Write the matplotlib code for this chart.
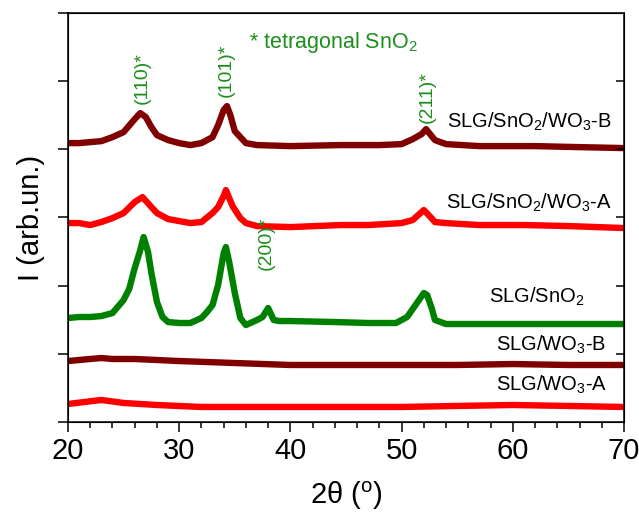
import matplotlib
matplotlib.use("Agg")
import matplotlib.pyplot as plt
from matplotlib.ticker import MultipleLocator

plt.rcParams['font.family'] = ['Liberation Sans', 'DejaVu Sans']
plt.rcParams['mathtext.fontset'] = 'custom'
plt.rcParams['mathtext.rm'] = 'Liberation Sans'

# ---- data ----
x_wo3_a = [20, 23, 25, 28, 32, 36, 40, 45, 50, 55, 60, 65, 70]
y_wo3_a = [26.4, 32.3, 27.9, 24.9, 22.0, 22.0, 22.0, 22.0, 22.0, 23.5, 24.9, 23.5, 22.0]

x_wo3_b = [20, 22, 23, 24, 26, 28, 30, 35, 40, 45, 50, 55, 60, 65, 70]
y_wo3_b = [89.4, 92.4, 93.8, 92.4, 92.4, 90.9, 89.4, 86.5, 83.6, 83.6, 83.6, 83.6, 85.0, 83.6, 83.6]

x_sno2 = [20, 21, 22, 23, 24, 25, 25.5, 26, 26.5, 26.8, 27.2, 27.5, 28, 28.5, 29, 30, 31, 32,
          32.5, 33, 33.5, 34, 34.2, 34.5, 35, 35.5, 36, 37, 37.5, 38, 38.5, 39, 40, 44, 47,
          49.5, 50.5, 51, 51.5, 52, 52.3, 52.7, 53, 54, 58, 62, 66, 70]
y_sno2 = [152.5, 154.0, 154.0, 155.4, 159.8, 178.9, 195.0, 225.8, 252.2, 271.3, 249.3, 218.5,
          176.0, 154.0, 146.6, 145.2, 145.2, 152.5, 161.3, 171.6, 200.9, 247.8, 256.6, 234.6,
          189.2, 152.5, 142.2, 149.6, 154.0, 167.2, 149.6, 148.1, 148.1, 146.6, 145.2, 145.2,
          154.0, 165.7, 177.4, 189.2, 186.2, 167.2, 149.6, 143.7, 143.7, 143.7, 143.7, 143.7]

x_sno2_wo3_a = [20, 21, 22, 23, 24, 25, 26, 26.7, 27.5, 28, 29, 30, 31, 32, 33, 33.5, 34, 34.2,
                34.8, 35.5, 36, 37, 40, 44.5, 47, 50, 51, 51.7, 52, 52.6, 53, 54, 57, 61, 65, 70]
y_sno2_wo3_a = [291.8, 291.8, 288.9, 293.3, 299.1, 306.5, 322.6, 329.9, 315.3, 306.5, 297.7,
                294.7, 291.8, 293.3, 306.5, 315.3, 331.4, 340.2, 316.7, 299.1, 291.8, 287.4,
                285.9, 288.9, 288.9, 291.8, 296.2, 306.5, 310.9, 300.6, 293.3, 291.8, 288.9,
                288.9, 287.4, 284.5]

x_sno2_wo3_b = [20, 21, 23, 24, 25, 26, 26.5, 27, 27.5, 28, 29, 30, 31, 32, 33, 33.5, 34, 34.3,
                34.6, 35, 36, 37, 40, 44.5, 48, 50, 51, 51.8, 52.2, 53, 54, 57, 62, 66, 70]
y_sno2_wo3_b = [409.1, 409.1, 412.0, 417.9, 425.2, 444.3, 453.1, 447.2, 432.6, 420.8, 413.5,
                409.1, 406.2, 409.1, 417.9, 435.5, 457.5, 463.4, 450.2, 426.7, 409.1, 406.2,
                404.7, 406.2, 406.2, 407.6, 414.9, 422.3, 429.6, 413.5, 407.6, 404.7, 404.7,
                403.2, 401.8]

series_labels = [r'SLG/SnO$_{2}$/WO$_{3}$-B', r'SLG/SnO$_{2}$/WO$_{3}$-A', r'SLG/SnO$_{2}$',
                 r'SLG/WO$_{3}$-B', r'SLG/WO$_{3}$-A']
hkl_labels = ['(110)*', '(101)*', '(211)*', '(200)*']
x_ticks = [20, 30, 40, 50, 60, 70]

DARK = '#800000'
RED = '#ff0000'
GREEN = '#008000'
TGREEN = '#1a8f1a'

fig = plt.figure(figsize=(6.39, 5.17), dpi=100)
ax = fig.add_axes([0.1064, 0.1838, 0.8701, 0.7911])

lw = 4.6
for xs, ys, c in [(x_wo3_a, y_wo3_a, RED), (x_wo3_b, y_wo3_b, DARK), (x_sno2, y_sno2, GREEN),
                  (x_sno2_wo3_a, y_sno2_wo3_a, RED), (x_sno2_wo3_b, y_sno2_wo3_b, DARK)]:
    ax.plot(xs, ys, color=c, lw=lw, solid_joinstyle='round', solid_capstyle='butt')

ax.set_xlim(20, 70)
ax.set_ylim(0, 600)
ax.set_xticks(x_ticks)
ax.xaxis.set_minor_locator(MultipleLocator(2))
ax.set_yticks([0, 100, 200, 300, 400, 500, 600])
ax.set_yticklabels([])
ax.tick_params(axis='x', which='major', direction='out', length=7, width=1.1,
               labelsize=21, pad=4, top=False)
ax.tick_params(axis='x', which='minor', direction='out', length=4, width=1.1, top=False)
ax.tick_params(axis='y', which='major', direction='out', length=7, width=1.1, left=True, right=False)
for s in ax.spines.values():
    s.set_linewidth(1.1)

# right-side inward ticks
ax2 = ax.twinx()
ax2.set_ylim(0, 600)
ax2.set_yticks([100, 200, 300, 400, 500])
ax2.set_yticklabels([])
ax2.tick_params(axis='y', direction='in', length=6, width=1.1)

ax.set_xlabel(r'2θ ($^{\mathregular{o}}$)', fontsize=21, labelpad=10)
ax.set_ylabel('I (arb.un.)', fontsize=21, labelpad=6)

fs = 14.5
ax.text(68.9, 440, series_labels[0], ha='right', va='center', fontsize=fs)
ax.text(68.9, 322, series_labels[1], ha='right', va='center', fontsize=fs)
ax.text(66.4, 183, series_labels[2], ha='right', va='center', fontsize=fs)
ax.text(68.4, 113, series_labels[3], ha='right', va='center', fontsize=fs)
ax.text(68.5, 54, series_labels[4], ha='right', va='center', fontsize=fs)

ax.text(43.9, 557, r'* tetragonal SnO$_{2}$', ha='center', va='center', fontsize=15.5, color=TGREEN)
hkl_x = [26.7, 34.2, 52.3, 37.8]
hkl_y = [505, 516, 477, 262]
for t, hx, hy in zip(hkl_labels, hkl_x, hkl_y):
    ax.text(hx, hy, t, rotation=90, ha='center', va='center', fontsize=14, color=TGREEN)

fig.savefig('out.png', dpi=100)
